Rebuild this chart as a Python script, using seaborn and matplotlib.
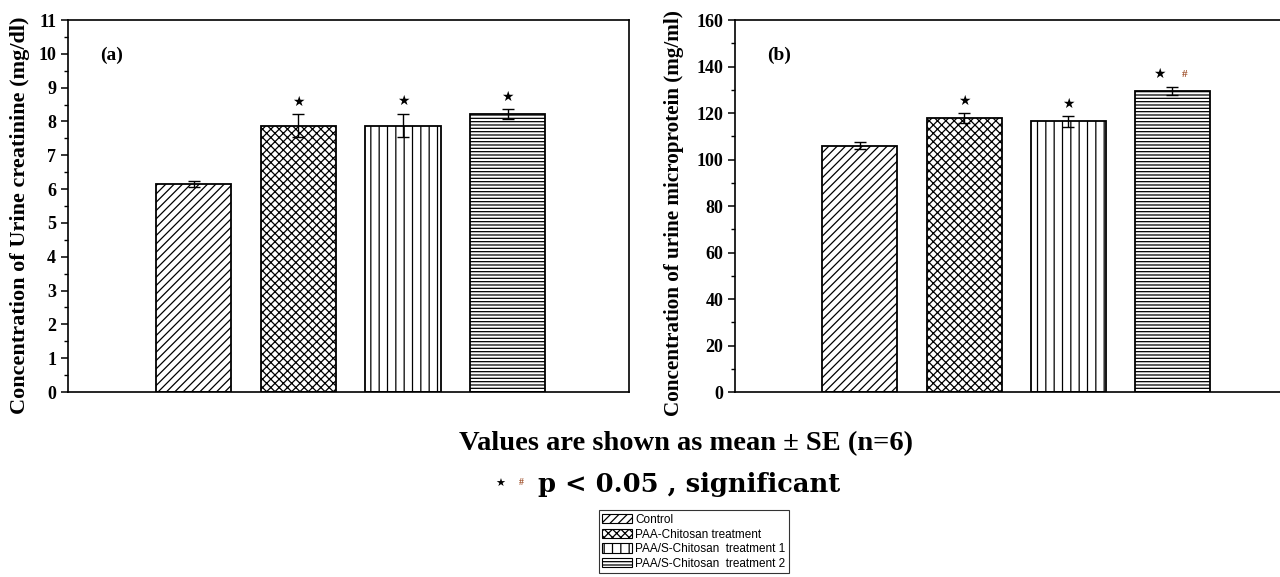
import matplotlib
matplotlib.use("Agg")
import matplotlib.pyplot as plt
from matplotlib.patches import Patch
from matplotlib.ticker import MultipleLocator
import seaborn as sns

# Data
groups = ["Control", "PAA-Chitosan treatment",
          "PAA/S-Chitosan  treatment 1", "PAA/S-Chitosan  treatment 2"]
hatches = ["////", "xxxx", "||", "-----"]

creatinine_mean = [6.15, 7.88, 7.88, 8.21]
creatinine_se = [0.08, 0.33, 0.35, 0.15]
creatinine_star = [False, True, True, True]
creatinine_hash = [False, False, False, False]

protein_mean = [105.9, 117.7, 116.4, 129.5]
protein_se = [1.5, 2.2, 2.2, 1.8]
protein_star = [False, True, True, True]
protein_hash = [False, False, False, True]

sns.set_style("ticks")
plt.rcParams["font.family"] = ["Liberation Serif", "DejaVu Serif"]
plt.rcParams["hatch.linewidth"] = 0.9
plt.rcParams["axes.linewidth"] = 1.2
# pure black text and lines like the original
for key in ["text.color", "axes.labelcolor", "ytick.color", "xtick.color",
            "axes.edgecolor", "hatch.color"]:
    plt.rcParams[key] = "black"

fig = plt.figure(figsize=(12.8, 5.77), dpi=100)
ax_a = fig.add_axes([0.0531, 0.3206, 0.4383, 0.6447])
ax_b = fig.add_axes([0.5742, 0.3206, 0.4360, 0.6447])


def draw_panel(ax, means, ses, stars, hashes, ylim, major, minor, ylabel,
               label_size, label_xy, tag):
    sns.barplot(x=groups, y=means, color="white", edgecolor="black",
                linewidth=1.3, width=0.72, errorbar=None, ax=ax)
    for bar, h in zip(ax.patches, hatches):
        bar.set_hatch(h)
    ax.errorbar(range(len(means)), means, yerr=ses, fmt="none",
                ecolor="black", elinewidth=1.0, capsize=4, capthick=1.0)
    for i, (m, s) in enumerate(zip(means, ses)):
        top = m + s
        if stars[i]:
            dx = -9 if hashes[i] else 0
            ax.annotate("\u2605", (i, top), xytext=(dx, 9),
                        textcoords="offset points", ha="center", va="center",
                        fontsize=10, family="DejaVu Sans", color="black")
        if hashes[i]:
            ax.annotate("#", (i, top), xytext=(9, 9),
                        textcoords="offset points", ha="center", va="center",
                        fontsize=8, fontweight="bold", color="#a0522d")
    ax.set_xlim(-1.2, 4.16)
    ax.set_ylim(*ylim)
    ax.yaxis.set_major_locator(MultipleLocator(major))
    ax.yaxis.set_minor_locator(MultipleLocator(minor))
    ax.set_xticks([])
    ax.tick_params(axis="y", which="major", direction="out", length=5,
                   width=1.1, labelsize=13)
    ax.tick_params(axis="y", which="minor", direction="out", length=3,
                   width=1.0)
    for lab in ax.get_yticklabels():
        lab.set_fontweight("bold")
    ax.set_ylabel(ylabel, fontsize=label_size, fontweight="bold")
    ax.yaxis.set_label_coords(*label_xy)
    ax.set_xlabel("")
    for sp in ax.spines.values():
        sp.set_visible(True)
        sp.set_color("black")
    ax.text(0.058, 0.905, tag, transform=ax.transAxes, fontsize=14,
            fontweight="bold", ha="left", va="center")


draw_panel(ax_a, creatinine_mean, creatinine_se, creatinine_star,
           creatinine_hash, (0, 11), 1, 0.5,
           "Concentration of Urine creatinine (mg/dl)", 16, (-0.068, 0.476),
           "(a)")
draw_panel(ax_b, protein_mean, protein_se, protein_star, protein_hash,
           (0, 160), 20, 10,
           "Concentration of urine microprotein (mg/ml)", 15.2, (-0.092, 0.481),
           "(b)")

# Footnotes
fig.text(0.536, 0.232, "Values are shown as mean \u00b1 SE (n=6)",
         ha="center", va="center", fontsize=20.5, fontweight="bold")
fig.text(0.391, 0.162, "\u2605", ha="center", va="center", fontsize=8,
         family="DejaVu Sans")
fig.text(0.407, 0.164, "#", ha="center", va="center", fontsize=7,
         fontweight="bold", color="#a0522d")
fig.text(0.420, 0.160, "p < 0.05 , significant", ha="left", va="center",
         fontsize=18.5, fontweight="bold", family="DejaVu Serif")

handles = [Patch(facecolor="white", edgecolor="black", hatch=h, linewidth=0.8)
           for h in hatches]
leg = fig.legend(handles, groups, loc="center", bbox_to_anchor=(0.542, 0.061),
                 frameon=True, fancybox=False, edgecolor="black",
                 prop={"family": "Liberation Sans", "size": 8.5},
                 handlelength=2.5, handleheight=0.8, handletextpad=0.3,
                 labelspacing=0.22, borderpad=0.3)
leg.get_frame().set_linewidth(0.8)

fig.savefig("out.png", dpi=100)
